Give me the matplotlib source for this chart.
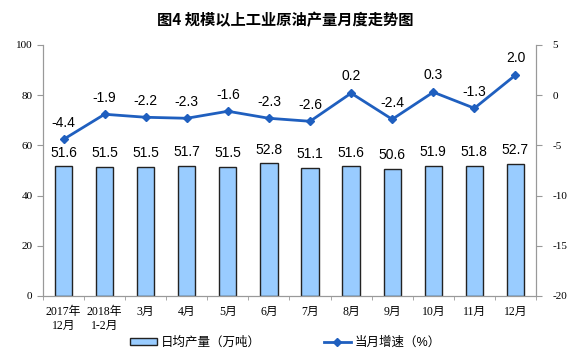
import numpy as np
import matplotlib.pyplot as plt

months = ["2017年\n12月", "2018年\n1-2月", "3月", "4月", "5月", "6月", "7月", "8月", "9月", "10月", "11月", "12月"]
output = [51.6, 51.5, 51.5, 51.7, 51.5, 52.8, 51.1, 51.6, 50.6, 51.9, 51.8, 52.7]
growth = [-4.4, -1.9, -2.2, -2.3, -1.6, -2.3, -2.6, 0.2, -2.4, 0.3, -1.3, 2.0]

cjk = ['Liberation Serif', 'Noto Sans CJK SC']
plt.rcParams['font.family'] = ['Liberation Sans', 'Noto Sans CJK SC']
plt.rcParams['axes.unicode_minus'] = False

fig = plt.figure(figsize=(5.71, 3.59), dpi=100)
ax = fig.add_axes([0.0753, 0.1755, 0.8634, 0.6992])
ax2 = ax.twinx()

x = np.arange(len(months))
bars = ax.bar(x, output, width=0.42, color="#99CCFF", edgecolor="#222222", linewidth=1.0)
for xi, v in zip(x, output):
    ax.annotate(f"{v:.1f}", (xi, v), xytext=(0, 5), textcoords="offset points",
                ha="center", va="bottom", fontsize=10)

ax.set_xlim(-0.5, len(months) - 0.5)
ax.set_ylim(0, 100)
ax.set_yticks(range(0, 101, 20))
ax.set_xticks(x)
ax.set_xticklabels(months, family=cjk, fontsize=8.5, linespacing=1.3)
ax.set_xticks(np.arange(-0.5, len(months)), minor=True)
ax.tick_params(axis="x", which="major", length=0, pad=7)
ax.tick_params(axis="x", which="minor", length=3, color="#999999")
ax.tick_params(axis="y", length=4, color="#999999", labelsize=8)
for lab in ax.get_yticklabels():
    lab.set_family(cjk)

line, = ax2.plot(x, growth, color="#1F5FBF", linewidth=2, marker="D", markersize=4)
for xi, v in zip(x, growth):
    ax2.annotate(f"{v:.1f}", (xi, v), xytext=(0, 7), textcoords="offset points",
                 ha="center", va="bottom", fontsize=10)
ax2.set_ylim(-20, 5)
ax2.set_yticks(range(-20, 6, 5))
ax2.tick_params(axis="y", length=4, color="#999999", labelsize=8, pad=8)
for lab in ax2.get_yticklabels():
    lab.set_family(cjk)

for a in (ax, ax2):
    a.spines["top"].set_visible(False)
    for s in ("left", "right", "bottom"):
        a.spines[s].set_color("#999999")

fig.text(0.5, 0.945, "图4 规模以上工业原油产量月度走势图", ha="center", va="center",
         fontsize=11, fontweight="bold", family=['Noto Sans CJK SC', 'DejaVu Sans'])

fig.legend([bars, line], ["日均产量（万吨）", "当月增速（%）"], loc="center",
           bbox_to_anchor=(0.5, 0.045), ncol=2, frameon=False, fontsize=9,
           handlelength=2.2, handletextpad=0.3, columnspacing=5, handleheight=0.5)

fig.savefig("out.png", dpi=100)
